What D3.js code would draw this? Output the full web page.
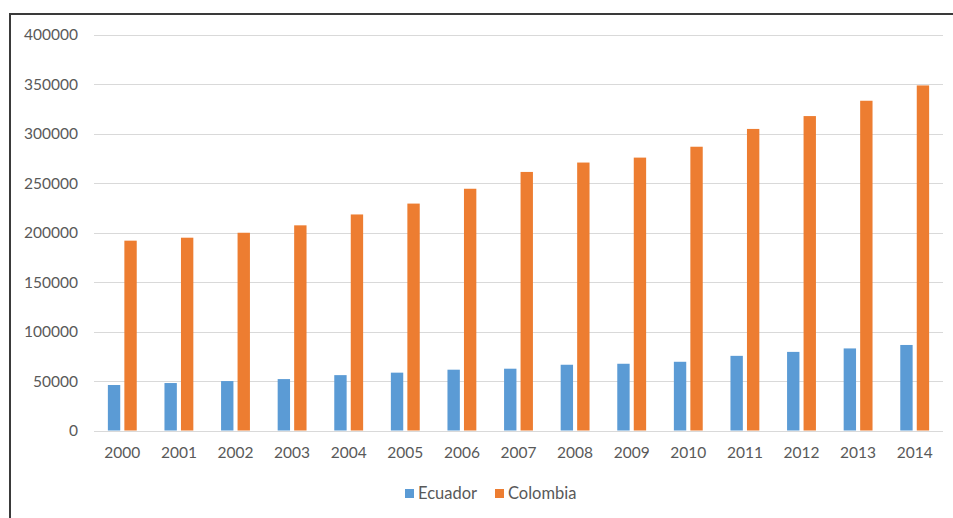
<!DOCTYPE html>
<html>
<head>
<meta charset="utf-8">
<script src="https://cdn.jsdelivr.net/npm/d3@7"></script>
<style>
  html, body { margin: 0; padding: 0; background: #fff; }
  svg { display: block; }
</style>
</head>
<body>
<svg id="chart" width="953" height="518"></svg>
<script>
const years = ["2000","2001","2002","2003","2004","2005","2006","2007","2008","2009","2010","2011","2012","2013","2014"];
const seriesNames = ["Ecuador", "Colombia"];
const ecuador = [46000, 48000, 50000, 52000, 56000, 58500, 61500, 62500, 66500, 67500, 69500, 75500, 79500, 83000, 86500];
const colombia = [192000, 195000, 200000, 207500, 218500, 229500, 244500, 261500, 271000, 276000, 287000, 305000, 318000, 333500, 349000];
const yTicks = [0, 50000, 100000, 150000, 200000, 250000, 300000, 350000, 400000];
const colors = ["#5B9BD5", "#ED7D31"];

const svg = d3.select("#chart");
const font = "Lato, 'Open Sans', sans-serif";

// outer frame (top and left edges)
svg.append("path")
  .attr("d", "M10,518 L10,14 L953,14")
  .attr("fill", "none")
  .attr("stroke", "#3a3a3a")
  .attr("stroke-width", 2);

const plotLeft = 94, plotRight = 943, plotTop = 35, plotBottom = 430.5;

const x = d3.scaleBand().domain(years).range([plotLeft, plotRight]).paddingInner(0).paddingOuter(0);
const y = d3.scaleLinear().domain([0, 400000]).range([plotBottom, plotTop]);
const bw = x.bandwidth();
const x1 = d3.scaleBand().domain(seriesNames)
  .range([bw * 0.245, bw * 0.755]).paddingInner(0.25).paddingOuter(0);

// horizontal gridlines + value labels
const yAxis = d3.axisLeft(y).tickValues(yTicks).tickSize(-(plotRight - plotLeft)).tickPadding(16).tickFormat(d3.format("d"));
const gy = svg.append("g").attr("transform", `translate(${plotLeft},0)`).call(yAxis);
gy.select(".domain").remove();
gy.selectAll(".tick line").attr("stroke", "#d9d9d9").attr("stroke-width", 1).attr("shape-rendering", "crispEdges");
gy.selectAll(".tick text").attr("fill", "#595959").attr("font-size", 15.5).attr("font-family", font);

// year labels
const xAxis = d3.axisBottom(x).tickSize(0).tickPadding(16);
const gx = svg.append("g").attr("transform", `translate(0,${plotBottom})`).call(xAxis);
gx.select(".domain").remove();
gx.selectAll(".tick text").attr("fill", "#595959").attr("font-size", 15.5).attr("font-family", font);

// bars
const data = years.map((yr, i) => ({ year: yr, values: [ecuador[i], colombia[i]] }));
const groups = svg.append("g").selectAll("g").data(data).join("g")
  .attr("transform", d => `translate(${x(d.year)},0)`);
groups.selectAll("rect")
  .data(d => d.values.map((v, k) => ({ name: seriesNames[k], value: v, k })))
  .join("rect")
  .attr("x", d => x1(d.name))
  .attr("width", x1.bandwidth())
  .attr("y", d => y(d.value))
  .attr("height", d => y(0) - y(d.value))
  .attr("fill", d => colors[d.k]);

// legend
const legendItems = [
  { name: seriesNames[0], color: colors[0], x: 405 },
  { name: seriesNames[1], color: colors[1], x: 495 }
];
const lg = svg.append("g");
legendItems.forEach(it => {
  lg.append("rect").attr("x", it.x).attr("y", 489).attr("width", 9).attr("height", 9).attr("fill", it.color);
  lg.append("text").attr("x", it.x + 13).attr("y", 493.5).attr("dy", "0.35em")
    .attr("fill", "#595959").attr("font-size", 16.5).attr("font-family", font).text(it.name);
});
</script>
</body>
</html>
